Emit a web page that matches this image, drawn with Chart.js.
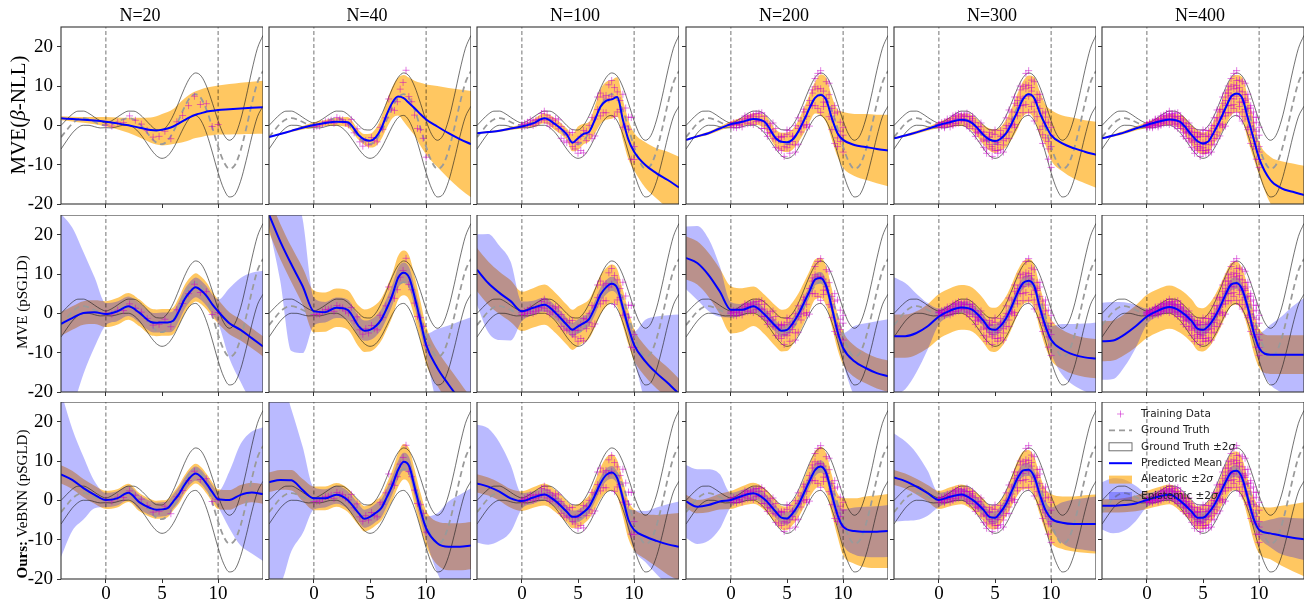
<!DOCTYPE html>
<html>
<head>
<meta charset="utf-8">
<script src="https://cdn.jsdelivr.net/npm/chart.js@4.4.0/dist/chart.umd.min.js"></script>
<style>
body { margin: 0; background: #fff; }
#fig { position: relative; width: 1311px; height: 599px; overflow: hidden; }
#fig canvas { position: absolute; }
.rowlab { position: absolute; white-space: nowrap; font-family: 'Liberation Serif', 'Times New Roman', serif; color: #000; transform: translate(-50%, -50%) rotate(-90deg); z-index: 5; }
</style>
</head>
<body>
<div id="fig"></div>
<script>
// ---- data ----
const sizes = [20, 40, 100, 200, 300, 400];
const methodLabels = ['MVE(<i>β</i>-NLL)', 'MVE (pSGLD)', '<b>Ours:</b> VeBNN (pSGLD)'];
const xLimits = [-4, 14];
const yLimits = [-20, 25];
const xTicks = [0, 5, 10];
const yTicks = [-20, -10, 0, 10, 20];
const trainRange = [0, 10];
const legendLabels = ['Training Data', 'Ground Truth', 'Ground Truth ±2σ', 'Predicted Mean', 'Aleatoric ±2σ', 'Epistemic ±2σ'];

// ground truth and its ±2σ half-width
const gtX = [-4,-3.5,-3,-2.5,-2,-1.5,-1,-0.5,0,0.5,1,1.5,2,2.5,3,3.5,4,4.5,5,5.5,6,6.5,7,7.5,8,8.5,9,9.5,10,10.5,11,11.5,12,12.5,13,13.5,14];
const gtMean = [-3.03,-1.23,0.42,1.5,1.82,1.5,0.84,0.24,0,0.24,0.84,1.5,1.82,1.5,0.42,-1.23,-3.03,-4.4,-4.79,-3.88,-1.68,1.4,4.6,7.04,7.92,6.79,3.71,-0.71,-5.44,-9.24,-11.0,-10.07,-6.44,-0.83,5.46,10.85,13.87];
const gtTwoSigma = [3.0,2.7,2.4,2.1,1.8,1.5,1.2,0.9,0.6,0.9,1.2,1.5,1.8,2.1,2.4,2.7,3.0,3.3,3.6,3.9,4.2,4.5,4.8,5.1,5.4,5.7,6.0,6.3,6.6,6.9,7.2,7.5,7.8,8.1,8.4,8.7,9.0];

// model outputs read at these inputs
const fitX = [-4,-3,-2,-1,0,1,2,3,4,4.5,5,5.5,6,6.5,7,7.5,8,8.5,9,9.5,10,11,12,13,14];

// row 1: MVE (beta-NLL), one list per N
const betaMean = [
  [1.8,1.6,1.4,1.2,0.9,0.5,0.0,-0.6,-1.2,-1.3,-1.1,-0.8,-0.3,0.5,1.3,2.1,2.7,3.1,3.5,3.7,3.9,4.1,4.3,4.45,4.6],
  [-3.0,-2.2,-1.4,-0.6,0.1,0.6,0.9,0.8,-2.5,-3.6,-3.9,-3.1,-0.8,2.8,5.8,7.3,6.9,5.6,4.3,2.8,1.5,-0.3,-2.0,-3.5,-4.8],
  [-2.0,-1.7,-1.4,-0.8,-0.3,0.5,1.8,0.2,-2.3,-4.4,-3.3,-2.2,-1.6,1.4,4.7,6.2,6.6,7.2,1.4,-3.7,-6.7,-10.1,-12.2,-13.9,-15.8],
  [-3.7,-2.8,-2.0,-0.8,0.3,0.9,1.6,0.9,-3.3,-4.2,-4.3,-3.6,-1.6,1.2,4.3,7.0,7.7,6.4,1.8,-2.0,-3.7,-5.0,-5.5,-6.0,-6.4],
  [-3.3,-2.6,-1.8,-0.9,0.1,0.8,1.4,0.5,-2.5,-3.6,-4.0,-3.4,-2.0,0.5,3.5,6.7,7.9,6.9,3.1,0.1,-2.5,-4.6,-5.8,-6.7,-7.5],
  [-3.3,-2.6,-1.8,-0.8,0.1,0.9,1.5,0.8,-2.5,-4.0,-4.6,-4.0,-1.6,1.2,4.3,7.3,8.1,6.9,1.8,-3.3,-8.4,-13.9,-16.0,-16.9,-17.7]
];
const betaAlea = [
  [0.5,0.6,0.75,0.95,1.2,1.5,1.9,2.5,3.2,3.6,4.0,4.2,4.45,5.0,5.5,5.8,5.95,6.05,6.1,6.2,6.25,6.4,6.55,6.65,6.75],
  [0.15,0.2,0.3,0.45,0.7,0.75,1.0,1.3,1.25,1.4,1.75,2.2,2.75,3.4,4.0,4.8,5.9,6.5,7.0,8.0,8.9,10.3,11.5,12.6,13.5],
  [0.2,0.25,0.3,0.4,0.5,0.95,1.25,1.5,1.5,2.2,3.0,2.6,2.5,3.5,4.4,4.8,4.9,5.0,5.1,5.0,4.8,5.8,6.4,7.2,7.8],
  [0.2,0.3,0.4,0.5,0.75,1.0,1.45,1.75,2.25,2.3,2.5,2.6,2.75,3.2,3.5,4.0,5.2,5.7,5.5,6.0,7.1,7.9,8.35,8.7,9.1],
  [0.2,0.3,0.4,0.5,0.75,1.2,1.6,2.0,2.5,2.8,3.0,3.0,3.5,4.0,4.5,4.5,4.8,5.4,5.5,5.2,6.4,7.1,7.7,8.0,8.4],
  [0.2,0.3,0.4,0.5,0.75,1.0,1.4,1.9,2.5,2.8,2.8,2.9,3.0,3.8,4.3,4.8,4.7,5.3,5.5,5.0,4.2,5.9,6.9,7.2,7.4]
];

// row 2: MVE (pSGLD)
const mveMean = [
  [-2.7,-1.2,0.1,0.3,-0.2,0.5,1.8,0.1,-2.2,-2.4,-2.3,-2.3,-1.9,0.5,3.5,5.5,6.6,5.8,4.3,2.2,0.5,-2.5,-4.2,-6.3,-8.4],
  [25.1,18.3,12.4,6.9,0.5,0.3,1.4,0.9,-3.3,-4.4,-4.2,-3.3,-1.6,1.3,4.7,9.0,10.3,9.0,3.9,-2.0,-8.0,-13.9,-18.1,-22.0,-26.0],
  [11.1,7.7,5.2,3.1,0.5,1.4,2.2,0.1,-2.9,-4.2,-3.3,-2.5,-1.4,1.4,4.7,6.6,7.5,6.4,1.4,-3.7,-8.0,-12.2,-15.2,-17.7,-20.5],
  [14.1,12.8,9.8,5.6,0.9,0.9,1.8,-0.3,-3.3,-4.4,-4.2,-2.6,-0.3,2.6,5.6,8.6,9.0,6.9,1.4,-4.6,-8.8,-12.2,-13.9,-15.2,-16.0],
  [-5.8,-5.8,-5.0,-3.3,-0.8,0.7,1.5,0.9,-2.0,-3.9,-4.2,-3.2,-1.2,1.8,5.2,7.7,8.3,6.9,1.4,-3.3,-6.7,-9.2,-10.5,-11.2,-11.5],
  [-7.1,-6.9,-5.4,-3.3,-0.8,0.7,1.6,0.5,-2.0,-3.9,-4.2,-3.2,-1.2,1.5,4.7,7.3,7.7,6.0,1.4,-4.6,-8.8,-10.5,-10.5,-10.5,-10.5]
];
const mveAlea = [
  [3.0,3.0,3.0,3.0,3.3,3.4,3.4,3.4,3.4,3.4,3.4,3.4,3.4,3.5,3.6,3.6,3.6,3.5,3.4,3.2,3.0,2.8,2.7,2.6,2.6],
  [4.5,4.5,4.5,4.7,5.3,5.0,4.9,5.0,5.2,5.4,5.5,5.5,5.4,5.4,5.5,5.6,5.7,5.6,5.3,5.0,4.8,4.5,4.5,4.5,4.5],
  [5.5,5.5,5.4,5.3,5.0,5.0,5.1,5.1,5.1,5.1,5.1,5.0,5.0,5.0,5.0,4.9,4.9,4.8,4.6,4.3,4.0,3.9,3.9,3.9,3.9],
  [5.5,5.5,5.6,5.8,6.0,5.5,5.0,5.0,5.2,5.3,5.4,5.4,5.3,5.2,5.1,5.1,5.1,5.0,4.8,4.5,4.2,4.0,3.9,3.9,4.0],
  [5.5,5.5,5.5,5.6,5.7,5.7,5.7,5.6,5.6,5.6,5.6,5.6,5.6,5.6,5.6,5.5,5.5,5.5,5.4,5.3,5.2,5.0,5.0,5.0,5.0],
  [5.1,5.1,5.2,5.3,5.5,5.5,5.5,5.5,5.5,5.5,5.5,5.5,5.5,5.5,5.5,5.5,5.5,5.4,5.3,5.2,5.0,4.9,4.9,4.9,4.9]
];
const mveEpi = [
  [28,23,15.5,8.8,2.8,2.5,2.5,2.5,2.5,2.5,2.5,2.5,2.5,2.5,2.5,2.5,2.5,2.5,2.5,2.5,3.0,8.9,13.2,16.6,19.2],
  [3,10,22,17,3.5,2.6,2.6,2.6,2.6,2.6,2.6,2.6,2.6,2.6,2.6,2.6,2.6,2.6,2.6,2.6,2.8,9.9,15,20,25],
  [9,12.5,12,10,2.5,1.8,1.8,1.8,1.8,1.8,1.8,1.8,1.8,1.8,1.8,1.8,1.8,1.8,1.8,2.0,3.4,10.6,14.4,17.2,20.2],
  [8,9.4,9.2,6.5,2.0,1.5,1.5,1.5,1.5,1.5,1.5,1.5,1.5,1.5,1.5,1.5,1.5,1.5,1.6,2.2,3.8,9.0,11.4,13.2,14.5],
  [15,13.5,10,5.9,2.0,1.5,1.5,1.5,1.5,1.5,1.5,1.5,1.5,1.5,1.5,1.5,1.5,1.5,1.6,2.2,3.5,6.5,7.8,8.6,9.2],
  [9.8,9.8,8.2,5.5,2.0,1.5,1.5,1.5,1.5,1.5,1.5,1.5,1.5,1.5,1.5,1.5,1.5,1.5,1.6,2.2,3.8,7.6,9.7,12.3,14.4]
];

// row 3: Ours, VeBNN (pSGLD)
const oursMean = [
  [6.6,5.2,3.1,1.4,0.1,0.5,1.9,-0.5,-2.0,-2.4,-2.3,-2.0,-0.3,1.5,3.9,5.8,6.8,5.9,4.1,2.0,0.3,0.1,1.4,2.0,1.6],
  [4.6,5.2,5.1,2.6,0.5,0.5,1.4,0.1,-3.3,-4.7,-4.2,-3.2,-2.0,0.8,3.9,7.7,9.8,8.6,3.1,-2.5,-7.1,-10.9,-11.8,-11.8,-11.5],
  [4.3,3.5,2.2,0.5,-0.2,0.7,1.5,-0.2,-2.9,-4.2,-4.0,-3.0,-1.6,1.2,4.3,6.4,7.1,5.6,0.5,-5.0,-7.5,-9.2,-10.3,-11.2,-11.8],
  [-0.3,-1.6,-1.2,-0.3,0.1,1.1,1.8,0.3,-2.9,-4.4,-4.6,-3.3,-1.2,1.8,4.9,7.7,8.6,6.9,1.4,-3.7,-6.7,-7.8,-8.0,-8.0,-7.8],
  [5.8,4.9,3.5,1.8,0.1,0.9,1.5,0.1,-2.5,-4.2,-4.4,-3.0,-0.8,2.4,5.6,7.6,7.8,6.0,1.4,-2.5,-4.6,-5.7,-6.0,-6.0,-6.0],
  [-1.4,-1.4,-1.2,-0.8,0.1,0.9,1.5,-0.2,-2.9,-4.4,-4.4,-3.2,-1.2,1.6,4.6,7.1,7.5,5.6,0.5,-4.6,-7.5,-8.4,-9.0,-9.5,-9.9]
];
const oursAlea = [
  [2.3,2.3,2.3,2.3,2.3,2.3,2.3,2.3,2.3,2.3,2.3,2.3,2.3,2.4,2.4,2.5,2.5,2.5,2.5,2.5,2.5,2.5,2.5,2.5,2.5],
  [2.5,2.5,2.6,2.8,3.0,3.0,3.0,3.0,3.1,3.2,3.2,3.2,3.2,3.5,3.9,4.3,4.5,4.5,4.5,4.4,4.5,5.5,6.0,6.0,6.0],
  [2.3,2.3,2.3,2.4,2.5,2.6,2.8,2.8,2.8,2.9,3.0,3.0,3.0,3.5,4.0,4.4,4.6,4.6,4.6,4.8,5.2,5.7,6.6,7.7,8.6],
  [1.7,1.7,1.8,2.0,2.3,2.5,2.7,2.8,3.0,3.0,3.0,3.0,3.2,3.6,4.2,4.8,5.0,5.0,5.0,5.5,7.2,8.3,9.0,9.2,9.4],
  [1.9,1.9,2.0,2.1,2.3,2.4,2.5,2.6,2.8,2.9,3.0,3.0,3.2,3.8,4.4,4.8,5.0,5.0,5.0,5.3,6.2,6.7,7.0,7.3,7.5],
  [1.7,1.7,1.8,2.0,2.3,2.4,2.5,2.6,2.8,2.9,3.0,3.0,3.2,3.8,4.4,4.8,4.9,5.0,5.0,5.5,6.0,6.6,7.6,8.5,9.4]
];
const oursEpi = [
  [21,13,8,3.4,1.8,1.8,1.8,1.8,1.8,1.8,1.8,1.8,1.8,1.8,1.8,1.8,1.8,1.8,1.8,1.8,2.0,7.2,12.9,15.5,17],
  [25,26,18,11,2.8,2.3,2.3,2.3,2.3,2.3,2.3,2.3,2.3,2.3,2.3,2.3,2.3,2.3,2.3,2.4,3.0,7.6,11.5,13.2,14.6],
  [15,14.8,12.5,8.5,2.0,1.6,1.6,1.6,1.6,1.6,1.6,1.6,1.6,1.6,1.6,1.6,1.6,1.6,1.8,3.0,5.0,6.5,8.5,10.2,11.5],
  [9.3,9.5,9.1,7,1.8,1.6,1.6,1.6,1.6,1.6,1.6,1.6,1.6,1.6,1.6,1.6,1.6,1.6,1.8,2.8,4.5,6.0,6.4,6.5,6.6],
  [11.2,10.1,8.5,5.7,1.8,1.6,1.6,1.6,1.6,1.6,1.6,1.6,1.6,1.6,1.6,1.6,1.6,1.6,1.8,2.2,2.8,5.2,6.2,6.6,7.0],
  [6,7,6.5,4.5,1.8,1.5,1.5,1.5,1.5,1.5,1.5,1.5,1.5,1.5,1.5,1.5,1.5,1.5,1.6,2.0,2.0,3.5,4.7,5.0,5.3]
];

// training data
const train20 = [[0,0.1],[0.53,-0.2],[1.05,0.8],[1.58,0.7],[2.11,2.4],[2.63,1.3],[3.16,0.3],[3.68,-1.3],[4.21,-3.0],[4.74,-2.8],[5.26,-1.5],[5.79,-3.4],[6.32,0.9],[6.84,2.5],[7.37,5.0],[7.89,7.4],[8.42,5.3],[8.95,5.5],[9.47,-0.3],[10,0.2]];
const train40 = [[0,-0.3],[0.26,-0.2],[0.51,-0.2],[0.77,0.4],[1.03,0.9],[1.28,1.0],[1.54,1.3],[1.79,0.5],[2.05,2.0],[2.31,1.6],[2.56,1.4],[2.82,0.6],[3.08,0.1],[3.33,1.5],[3.59,-1.9],[3.85,-0.9],[4.10,-4.2],[4.36,-5.3],[4.62,-3.9],[4.87,-5.0],[5.13,-3.1],[5.38,-3.9],[5.64,-4.2],[5.90,-0.5],[6.15,-1.0],[6.41,1.9],[6.67,6.7],[6.92,4.1],[7.18,3.8],[7.44,6.0],[7.69,9.2],[7.95,10.9],[8.21,14.0],[8.46,7.3],[8.72,6.0],[8.97,2.6],[9.23,-0.8],[9.49,-1.1],[9.74,-3.3],[10,-8.1]];
// larger sets: x, then noisy draws at that x
const sampleRows = [
  [0, 0.2,-0.3,0.4,-0.1,0.1,-0.5],
  [0.25, -0.2,0.5,0.2,-0.5,0.7,0.1],
  [0.5, 0.8,0.0,-0.6,0.6,0.3,-0.2],
  [0.75, 0.4,1.4,1.0,-0.1,0.2,1.6],
  [1, 1.2,0.0,0.7,1.4,-0.4,1.1],
  [1.25, 0.4,1.4,2.4,0.9,1.8,0.0],
  [1.5, 1.5,0.8,2.3,1.8,0.4,2.6],
  [1.75, 3.0,1.6,0.6,2.4,1.9,1.1],
  [2, 1.3,3.6,2.3,0.2,2.7,1.7],
  [2.25, 2.6,0.6,1.4,3.0,1.0,2.3],
  [2.5, -0.2,1.9,3.1,1.2,2.2,0.3],
  [2.75, 1.3,0.3,-0.8,3.2,0.9,2.2],
  [3, 1.7,0.4,1.1,-0.8,2.3,-0.2],
  [3.25, -0.9,1.4,-1.8,0.0,-2.8,0.7],
  [3.5, -0.3,-3.3,-1.1,0.4,-2.0,-1.5],
  [3.75, -4.0,-1.4,0.6,-3.3,-1.7,-0.4],
  [4, -2.4,-4.4,-3.5,-0.8,-5.6,-1.7],
  [4.25, -4.0,-1.9,-6.0,-2.9,-3.8,-7.1],
  [4.5, -1.8,-5.4,-3.1,-6.4,-2.8,-4.9],
  [4.75, -6.0,-4.4,-7.9,-2.8,-5.4,-2.2],
  [5, -4.3,-7.1,-2.3,-5.7,-1.2,-6.4],
  [5.25, -6.4,-2.8,-4.9,-1.3,-7.1,-4.3],
  [5.5, -1.3,-7.0,-2.9,-4.1,-2.7,-6.2],
  [5.75, -3.9,-1.5,-5.0,-0.1,-6.8,-2.3],
  [6, 0.0,-2.3,1.9,-4.8,-0.8,-3.4],
  [6.25, -3.3,2.0,-0.2,1.1,-1.7,3.9],
  [6.5, 1.6,-2.7,0.0,4.1,3.4,0.5],
  [6.75, 7.2,4.0,0.2,2.3,-0.5,5.6],
  [7, 2.4,8.2,6.3,-0.2,5.1,3.2],
  [7.25, 7.2,3.2,9.0,8.2,5.0,10.0],
  [7.5, 3.2,7.6,5.0,11.9,9.8,6.8],
  [7.75, 10.3,6.7,13.2,4.3,9.3,5.3],
  [8, 7.4,11.4,3.3,9.3,13.9,10.1],
  [8.25, 9.6,2.3,8.7,5.9,4.8,11.5],
  [8.5, 3.4,8.5,11.1,6.8,5.9,1.1],
  [8.75, 6.3,4.0,2.2,10.7,7.8,5.8],
  [9, 7.9,-0.5,4.3,1.6,-1.1,6.7],
  [9.25, -0.2,4.4,-4.6,5.0,3.1,-2.4],
  [9.5, 2.1,-1.0,3.4,-5.4,-3.2,0.6],
  [9.75, -8.6,2.0,-4.1,-1.5,0.8,-6.0],
  [10, -5.4,-8.7,-2.5,-6.8,-0.5,-10.7]
];
const sampleColumns = {100: [1, 2], 200: [3, 4, 5], 300: [1, 3, 5, 6], 400: [1, 2, 3, 4, 5, 6]};

// ---- styling / layout ----
const SERIF = "'Liberation Serif', 'Times New Roman', serif";
const ORANGE = 'rgba(255,165,0,0.62)';
const PURPLE = 'rgba(0,0,255,0.27)';
const BLUE = '#0000ff';
const MAGENTA = 'rgba(200,0,200,0.5)';
const GT_LINE = 'rgba(30,30,30,0.7)';
const GT_DASH = '#9a9a9a';
const VLINE = 'rgba(0,0,0,0.62)';

const panelLeft = [61, 269, 477, 686, 894, 1102];
const panelTop = [27, 215, 402];
const panelW = 202, panelH = 177;
const labelPos = [[18, 115, 21], [22, 302, 15], [22, 504, 15]];

const rowMeans = [betaMean, mveMean, oursMean];
const rowAlea = [betaAlea, mveAlea, oursAlea];
const rowEpi = [null, mveEpi, oursEpi];

function xy(xs, ys) { return xs.map((x, i) => ({x: x, y: ys[i]})); }
function band(mid, half, sign) { return fitX.map((x, i) => ({x: x, y: mid[i] + sign * half[i]})); }

function trainPoints(c) {
  const n = sizes[c];
  if (n === 20) return train20.map(p => ({x: p[0], y: p[1]}));
  if (n === 40) return train40.map(p => ({x: p[0], y: p[1]}));
  const out = [];
  sampleRows.forEach(row => sampleColumns[n].forEach(k => out.push({x: row[0], y: row[k]})));
  return out;
}

function curve(data, extra) {
  return Object.assign({
    data: data, pointRadius: 0, borderWidth: 0, borderColor: 'transparent',
    cubicInterpolationMode: 'monotone', fill: false
  }, extra);
}

function buildDatasets(r, c) {
  const m = rowMeans[r][c], a = rowAlea[r][c];
  const ds = [];
  ds.push(curve(band(m, a, 1), {order: 9}));
  ds.push(curve(band(m, a, -1), {order: 8, fill: '-1', backgroundColor: ORANGE}));
  if (rowEpi[r]) {
    const e = rowEpi[r][c];
    ds.push(curve(band(m, e, 1), {order: 7}));
    ds.push(curve(band(m, e, -1), {order: 6, fill: '-1', backgroundColor: PURPLE}));
  }
  trainRange.forEach(v => {
    ds.push({data: yLimits.map(y => ({x: v, y: y})), borderColor: VLINE, borderWidth: 0.9,
      borderDash: [4, 2.5], pointRadius: 0, order: 5});
  });
  ds.push(curve(gtX.map((x, i) => ({x: x, y: gtMean[i] + gtTwoSigma[i]})), {order: 4, borderColor: GT_LINE, borderWidth: 0.9}));
  ds.push(curve(gtX.map((x, i) => ({x: x, y: gtMean[i] - gtTwoSigma[i]})), {order: 4, borderColor: GT_LINE, borderWidth: 0.9}));
  ds.push(curve(xy(gtX, gtMean), {order: 3, borderColor: GT_DASH, borderWidth: 1.8, borderDash: [6, 4]}));
  ds.push({data: trainPoints(c), showLine: false, pointStyle: 'cross', pointRadius: 3.5,
    pointBorderColor: MAGENTA, pointBorderWidth: 1, order: 2});
  ds.push(curve(xy(fitX, m), {order: 1, borderColor: BLUE, borderWidth: 2}));
  return ds;
}

const framePlugin = {
  id: 'frame',
  afterDraw(chart) {
    const {ctx, chartArea: a} = chart;
    ctx.save();
    ctx.strokeStyle = '#333';
    ctx.lineWidth = 1.1;
    ctx.strokeRect(a.left, a.top, a.right - a.left, a.bottom - a.top);
    ctx.restore();
  }
};

const cornerLegend = {
  id: 'cornerLegend',
  afterDraw(chart) {
    const {ctx, chartArea: a} = chart;
    const h0 = a.left + 7, h1 = a.left + 30, tx = a.left + 39;
    ctx.save();
    legendLabels.forEach((label, i) => {
      const y = a.top + 12 + i * 16.4;
      ctx.setLineDash([]);
      if (i === 0) {
        const cx = (h0 + h1) / 2;
        ctx.strokeStyle = MAGENTA; ctx.lineWidth = 1;
        ctx.beginPath(); ctx.moveTo(cx - 3.5, y); ctx.lineTo(cx + 3.5, y);
        ctx.moveTo(cx, y - 3.5); ctx.lineTo(cx, y + 3.5); ctx.stroke();
      } else if (i === 1 || i === 3) {
        ctx.strokeStyle = i === 1 ? GT_DASH : BLUE;
        ctx.lineWidth = i === 1 ? 1.8 : 2;
        if (i === 1) ctx.setLineDash([6, 4]);
        ctx.beginPath(); ctx.moveTo(h0, y); ctx.lineTo(h1, y); ctx.stroke();
        ctx.setLineDash([]);
      } else if (i === 2) {
        ctx.fillStyle = '#fff'; ctx.fillRect(h0, y - 4, h1 - h0, 8);
        ctx.strokeStyle = GT_LINE; ctx.lineWidth = 0.9; ctx.strokeRect(h0, y - 4, h1 - h0, 8);
      } else {
        ctx.fillStyle = i === 4 ? ORANGE : PURPLE;
        ctx.fillRect(h0, y - 4, h1 - h0, 8);
      }
      ctx.fillStyle = '#222';
      ctx.textBaseline = 'middle';
      ctx.textAlign = 'left';
      ctx.font = '10.5px "DejaVu Sans"';
      if (label.endsWith('σ')) {
        const base = label.slice(0, -1);
        ctx.fillText(base, tx, y);
        const w = ctx.measureText(base).width;
        ctx.font = 'italic 10.5px "DejaVu Sans"';
        ctx.fillText('σ', tx + w, y);
      } else {
        ctx.fillText(label, tx, y);
      }
    });
    ctx.restore();
  }
};

const fig = document.getElementById('fig');

methodLabels.forEach((txt, r) => {
  const d = document.createElement('div');
  d.className = 'rowlab';
  d.innerHTML = txt;
  d.style.left = labelPos[r][0] + 'px';
  d.style.top = labelPos[r][1] + 'px';
  d.style.fontSize = labelPos[r][2] + 'px';
  fig.appendChild(d);
});

for (let r = 0; r < 3; r++) {
  for (let c = 0; c < 6; c++) {
    const padL = c === 0 ? 44 : 6;
    const padT = r === 0 ? 27 : 0;
    const padB = r === 2 ? 26 : 6;
    const cv = document.createElement('canvas');
    cv.width = panelW + padL;
    cv.height = panelH + padT + padB;
    cv.style.left = (panelLeft[c] - padL) + 'px';
    cv.style.top = (panelTop[r] - padT) + 'px';
    fig.appendChild(cv);

    const plugins = [framePlugin];
    if (r === 2 && c === 5) plugins.push(cornerLegend);

    new Chart(cv.getContext('2d'), {
      type: 'line',
      data: {datasets: buildDatasets(r, c)},
      options: {
        responsive: false,
        animation: false,
        events: [],
        layout: {padding: 0, autoPadding: false},
        elements: {line: {capBezierPoints: false}},
        plugins: {
          legend: {display: false},
          tooltip: {enabled: false},
          title: {
            display: r === 0,
            text: 'N=' + sizes[c],
            color: '#000',
            font: {family: SERIF, size: 18, weight: 'normal'},
            padding: {top: 5, bottom: 0.4}
          }
        },
        scales: {
          x: {
            type: 'linear', min: xLimits[0], max: xLimits[1],
            afterBuildTicks: s => { s.ticks = xTicks.map(v => ({value: v})); },
            afterFit: s => { s.height = padB; s.paddingLeft = 0; s.paddingRight = 0; },
            ticks: {display: r === 2, color: '#000', font: {family: SERIF, size: 19, lineHeight: 1.0}, padding: 2, maxRotation: 0, autoSkip: false},
            grid: {display: true, drawOnChartArea: false, drawTicks: true, tickLength: 4, color: '#333'},
            border: {display: false}
          },
          y: {
            type: 'linear', min: yLimits[0], max: yLimits[1],
            afterBuildTicks: s => { s.ticks = yTicks.map(v => ({value: v})); },
            afterFit: s => { s.width = padL; s.paddingTop = 0; s.paddingBottom = 0; },
            ticks: {display: c === 0, color: '#000', font: {family: SERIF, size: 19}, padding: 4, autoSkip: false},
            grid: {display: true, drawOnChartArea: false, drawTicks: true, tickLength: 4, color: '#333'},
            border: {display: false}
          }
        }
      },
      plugins: plugins
    });
  }
}
</script>
</body>
</html>
